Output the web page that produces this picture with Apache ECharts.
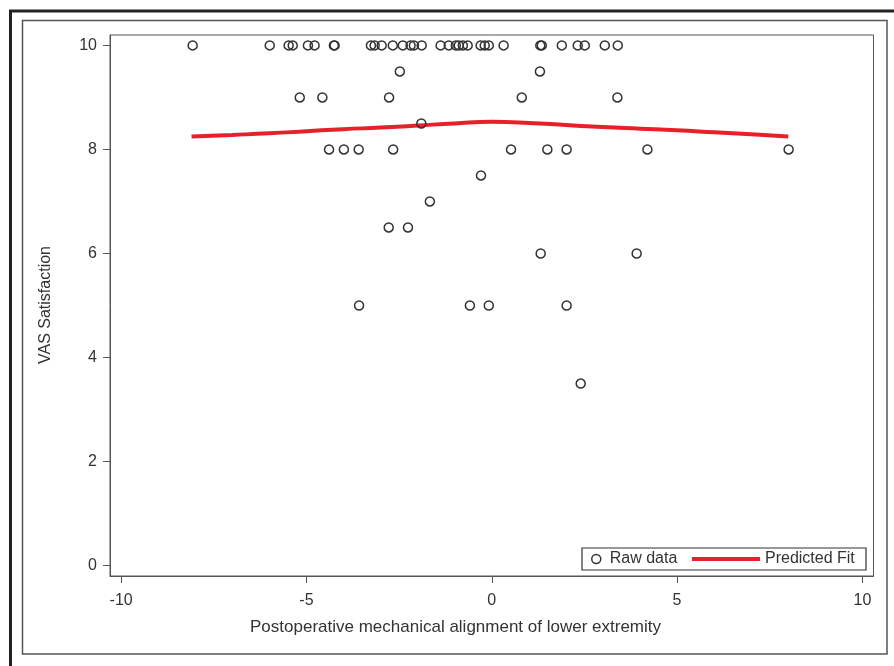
<!DOCTYPE html>
<html>
<head>
<meta charset="utf-8">
<script src="https://cdn.jsdelivr.net/npm/echarts@6/dist/echarts.min.js"></script>
<style>
html,body{margin:0;padding:0;background:#fff;}
#c{width:894px;height:666px;}
</style>
</head>
<body>
<div id="c"></div>
<script>
// Raw data (x = postoperative mechanical alignment, y = VAS satisfaction)
const rawX = [
  -8.07, -5.99, -5.48, -5.37, -4.96, -4.78, -4.26, -4.24, -3.26, -3.16, -2.97,
  -2.67, -2.40, -2.19, -2.10, -1.89, -1.38, -1.16, -0.97, -0.89, -0.78, -0.65,
  -0.30, -0.19, -0.08, 0.32, 1.31, 1.35, 1.89, 2.32, 2.51, 3.05, 3.40,
  -2.48, 1.30,
  -5.18, -4.57, -2.77, 0.81, 3.39,
  -1.90,
  -4.39, -3.99, -3.59, -2.66, 0.52, 1.50, 2.02, 4.20, 8.01,
  -0.29,
  -1.67,
  -2.78, -2.26,
  1.32, 3.91,
  -3.58, -0.59, -0.08, 2.02,
  2.40
];
const rawY = [
  10, 10, 10, 10, 10, 10, 10, 10, 10, 10, 10,
  10, 10, 10, 10, 10, 10, 10, 10, 10, 10, 10,
  10, 10, 10, 10, 10, 10, 10, 10, 10, 10, 10,
  9.5, 9.5,
  9, 9, 9, 9, 9,
  8.5,
  8, 8, 8, 8, 8, 8, 8, 8, 8,
  7.5,
  7,
  6.5, 6.5,
  6, 6,
  5, 5, 5, 5,
  3.5
];
// Predicted fit curve
const fitX = [-8.1, -7, -6, -5, -4, -3, -2, -1, 0, 1, 2, 3, 4, 5, 6, 7, 8];
const fitY = [8.25, 8.28, 8.31, 8.35, 8.39, 8.42, 8.46, 8.50, 8.53, 8.51, 8.47, 8.43, 8.40, 8.37, 8.33, 8.29, 8.25];
// Tick labels
const xTicks = [-10, -5, 0, 5, 10];
const yTicks = [0, 2, 4, 6, 8, 10];
const xTitle = 'Postoperative mechanical alignment of lower extremity';
const yTitle = 'VAS Satisfaction';
const seriesNames = ['Raw data', 'Predicted Fit'];

const FONT = '"Liberation Sans", Arial, sans-serif';
const chart = echarts.init(document.getElementById('c'), null, {renderer: 'canvas'});

const axisLine = {show: true, onZero: false, lineStyle: {color: '#555', width: 1}};

const option = {
  animation: false,
  backgroundColor: '#fff',
  grid: {
    left: 110, top: 35, width: 763.5, height: 541,
    show: true, borderColor: '#555', borderWidth: 1, backgroundColor: '#fff'
  },
  xAxis: {
    type: 'value', min: -10.3, max: 10.3,
    axisLine: axisLine,
    splitLine: {show: false},
    axisTick: {show: true, inside: false, length: 7, lineStyle: {color: '#555', width: 1}, customValues: xTicks},
    axisLabel: {customValues: xTicks, margin: 17, color: '#333', fontSize: 16, fontFamily: FONT}
  },
  yAxis: {
    type: 'value', min: -0.2, max: 10.2,
    axisLine: axisLine,
    splitLine: {show: false},
    axisTick: {show: true, inside: false, length: 7, lineStyle: {color: '#555', width: 1}, customValues: yTicks},
    axisLabel: {customValues: yTicks, margin: 13, color: '#333', fontSize: 16, fontFamily: FONT}
  },
  legend: [
    {
      data: [{name: seriesNames[0], icon: 'circle'}],
      left: 591, top: 551, padding: 0, z: 20, itemGap: 0,
      itemWidth: 9, itemHeight: 9,
      itemStyle: {color: 'transparent', borderColor: '#333', borderWidth: 1.5},
      textStyle: {fontSize: 16, color: '#333', fontFamily: FONT, padding: [0, 0, 0, 4]}
    },
    {
      data: [{name: seriesNames[1], icon: 'rect'}],
      left: 692, top: 551, padding: 0, z: 20,
      itemWidth: 68, itemHeight: 4,
      textStyle: {fontSize: 16, color: '#333', fontFamily: FONT}
    }
  ],
  graphic: [
    {type: 'rect', shape: {x: 10.5, y: 11, width: 895, height: 665}, style: {fill: 'none', stroke: '#222', lineWidth: 3}, z: -10},
    {type: 'rect', shape: {x: 22.5, y: 20.5, width: 864.5, height: 633.5}, style: {fill: 'none', stroke: '#555', lineWidth: 1.5}, z: -10},
    {type: 'rect', shape: {x: 582, y: 548, width: 284, height: 22}, style: {fill: '#fff', stroke: '#333', lineWidth: 1.2}, z: 1},
    {type: 'text', left: 250, top: 619, style: {text: xTitle, font: '17px ' + FONT, fill: '#333'}},
    {type: 'text', x: 46, y: 305, rotation: Math.PI / 2,
     style: {text: yTitle, font: '16px ' + FONT, fill: '#333', align: 'center', verticalAlign: 'middle'}}
  ],
  series: [
    {
      name: seriesNames[1], type: 'line',
      data: fitX.map((x, i) => [x, fitY[i]]),
      showSymbol: false, symbol: 'none', smooth: true,
      lineStyle: {color: '#e8202a', width: 4},
      itemStyle: {color: '#e8202a'},
      z: 2
    },
    {
      name: seriesNames[0], type: 'scatter',
      data: rawX.map((x, i) => [x, rawY[i]]),
      symbol: 'circle', symbolSize: 9,
      itemStyle: {color: 'transparent', borderColor: '#333', borderWidth: 1.5, opacity: 1},
      z: 3
    }
  ]
};
chart.setOption(option);
</script>
</body>
</html>
